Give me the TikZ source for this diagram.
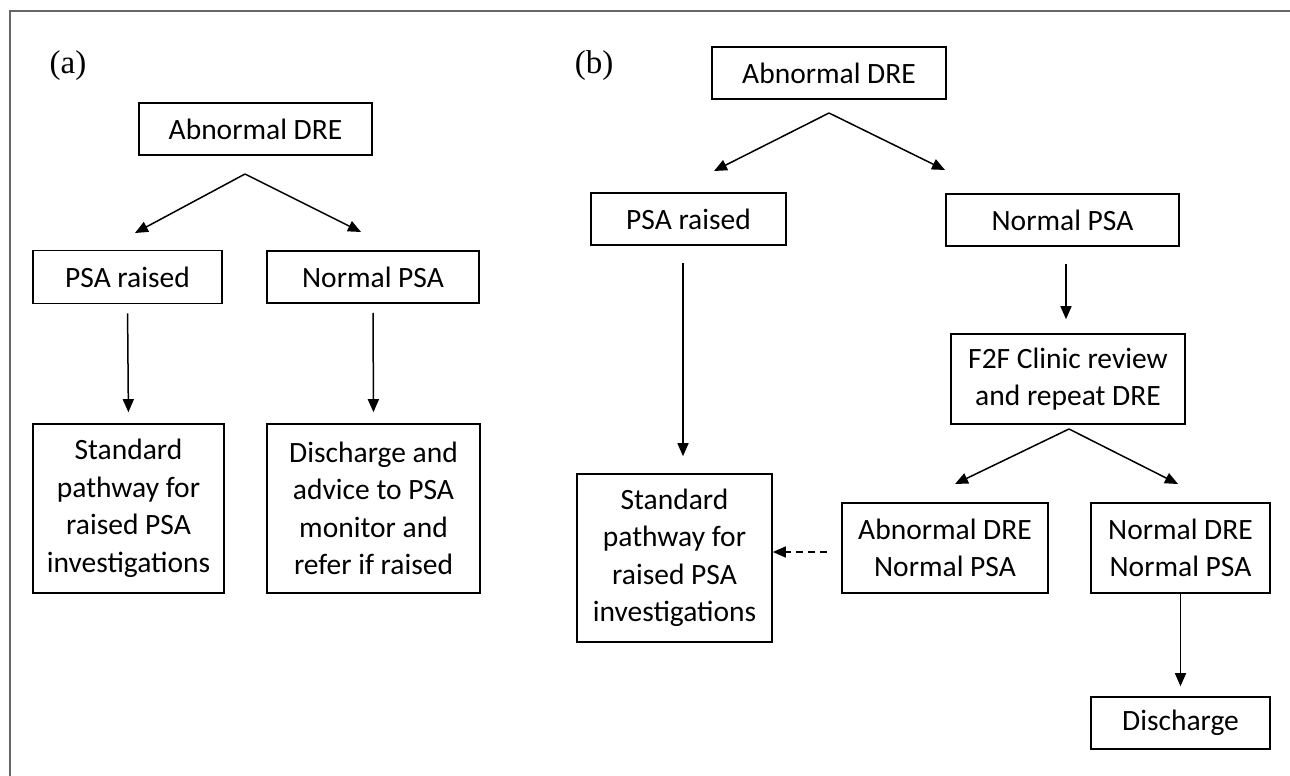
\documentclass[tikz,border=0pt]{standalone}
\usepackage{fontspec}
\setmainfont{Carlito}
\newfontfamily\panelfont{Liberation Serif}
\usetikzlibrary{arrows.meta}

\tikzset{
  every box/.style={draw, line width=1.6pt, align=center, inner sep=0pt,
    font=\fontsize{29.5}{37.5}\selectfont},
  panel label/.style={font=\panelfont\fontsize{33}{35}\selectfont},
  flow/.style={->, line width=1.5pt},
  hint/.style={->, line width=1.5pt, dash pattern=on 7pt off 5pt},
}

\begin{document}
\begin{tikzpicture}[x=1pt, y=-1pt, >={Triangle[length=13pt,width=11pt]}]

    \useasboundingbox (0,0) rectangle (1290,776);
    \draw [black!60, line width=1.5pt] (10,776) -- (10,11) -- (1290,11);

    % ================================================================================================
    % panel (a)
    % ================================================================================================
    \node [panel label] (label-a) at (68,66) {(a)};

    \node [every box, minimum width=233, minimum height=52] (dre-a) at (255.5,129) {Abnormal DRE};
    \node [every box, minimum width=189, minimum height=53] (raised-a) at (127.5,277) {PSA raised};
    \node [every box, minimum width=212, minimum height=52] (normal-a) at (373,277) {Normal PSA};
    \node [every box, minimum width=191, minimum height=169] (standard-a) at (128.5,508.5)
      {Standard\\pathway for\\raised PSA\\investigations};
    \node [every box, minimum width=213, minimum height=169] (discharge-a) at (373.5,508.5)
      {Discharge and\\advice to PSA\\monitor and\\refer if raised};

    \coordinate (split-a) at (245,174);
    \coordinate (tip-a1) at (135,233);
    \coordinate (tip-a2) at (361,232);
    \draw [flow] (split-a) -- (tip-a1);
    \draw [flow] (split-a) -- (tip-a2);

    \foreach \m/\n in {raised-a/standard-a, normal-a/discharge-a}
    \draw [flow, shorten <=9pt, shorten >=11pt] (\m.south) -- (\n.north);

    % ================================================================================================
    % panel (b)
    % ================================================================================================
    \node [panel label] (label-b) at (594,66) {(b)};

    \node [every box, minimum width=234, minimum height=52] (dre-b) at (829,73) {Abnormal DRE};
    \node [every box, minimum width=195, minimum height=52] (raised-b) at (688.5,219) {PSA raised};
    \node [every box, minimum width=233, minimum height=52] (normal-b) at (1062.5,220) {Normal PSA};
    \node [every box, minimum width=234, minimum height=90] (review-b) at (1068,379)
      {F2F Clinic review\\and repeat DRE};
    \node [every box, minimum width=195, minimum height=168] (standard-b) at (674.5,558)
      {Standard\\pathway for\\raised PSA\\investigations};
    \node [every box, minimum width=206, minimum height=90] (abnormal-b) at (945,548)
      {Abnormal DRE\\Normal PSA};
    \node [every box, minimum width=179, minimum height=90] (clear-b) at (1180.5,548)
      {Normal DRE\\Normal PSA};
    \node [every box, minimum width=179, minimum height=52] (discharge-b) at (1180.5,723) {Discharge};

    \coordinate (split-b1) at (829,113);
    \coordinate (split-b2) at (1069,429);
    \foreach \s/\t in {split-b1/{714,171}, split-b1/{945,170}, split-b2/{955,484}, split-b2/{1178,484}}
    \draw [flow] (\s) -- (\t);

    \draw [flow] ([yshift=-17pt]raised-b.south -| 683,0) -- ([yshift=17pt]standard-b.north -| 683,0);
    \draw [flow] ([yshift=-17pt]normal-b.south -| 1066,0) -- ([yshift=14pt]review-b.north -| 1066,0);
    \draw [flow, shorten >=10pt] (clear-b.south) -- (discharge-b.north);

    \draw [hint, shorten <=14pt] (abnormal-b.west |- 0,552) -- (standard-b.east |- 0,552);

\end{tikzpicture}
\end{document}
